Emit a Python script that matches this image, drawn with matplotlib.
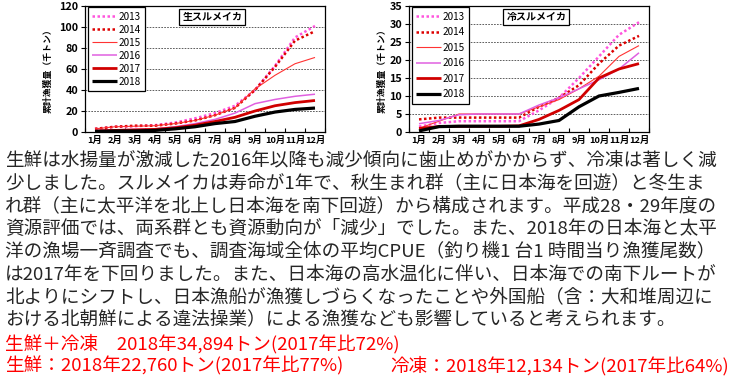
import matplotlib
matplotlib.use('Agg')
import matplotlib.pyplot as plt

plt.rcParams['font.family'] = ['Noto Sans CJK JP', 'DejaVu Sans']

months = ['1月', '2月', '3月', '4月', '5月', '6月', '7月', '8月', '9月', '10月', '11月', '12月']
years = ['2013', '2014', '2015', '2016', '2017', '2018']

# 生スルメイカ 累計漁獲量 (千トン)
fresh_2013 = [3, 5, 5.5, 6.5, 9, 13, 18, 25, 40, 63, 90, 101]
fresh_2014 = [3, 5, 6, 6, 8, 11, 16, 23, 40, 62, 87, 96]
fresh_2015 = [3, 5, 5.5, 6, 8, 11, 16, 23, 41, 54, 65, 71]
fresh_2016 = [1.5, 2, 2.5, 3, 5, 8, 12, 18, 27, 31, 34, 36]
fresh_2017 = [1, 1.5, 2, 2.5, 4, 6.5, 10, 14, 20, 25, 28, 30]
fresh_2018 = [0.5, 1, 1, 1.5, 3, 5, 8, 10, 15, 19, 21.5, 22.8]

# 冷スルメイカ 累計漁獲量 (千トン)
frozen_2013 = [1.5, 2.5, 3, 3, 3, 3, 6, 9.5, 15, 21, 27, 30.5]
frozen_2014 = [3.5, 4, 4, 4, 4, 4, 7, 9.5, 13, 19, 24, 26.7]
frozen_2015 = [1, 3, 5, 5, 5, 5, 7, 9, 12, 15.5, 21, 24]
frozen_2016 = [2.3, 3.2, 4.8, 5, 5, 5, 7.5, 9.5, 12, 14.5, 17.5, 22]
frozen_2017 = [1, 1.5, 1.6, 1.6, 1.6, 1.7, 3.5, 6, 9, 15, 17.5, 19]
frozen_2018 = [0.3, 1.5, 1.6, 1.6, 1.6, 1.6, 2.2, 3.2, 7, 10, 11, 12.1]

body_lines = [
    '生鮮は水揚量が激減した2016年以降も減少傾向に歯止めがかからず、冷凍は著しく減',
    '少しました。スルメイカは寿命が1年で、秋生まれ群（主に日本海を回遊）と冬生ま',
    'れ群（主に太平洋を北上し日本海を南下回遊）から構成されます。平成28・29年度の',
    '資源評価では、両系群とも資源動向が「減少」でした。また、2018年の日本海と太平',
    '洋の漁場一斉調査でも、調査海域全体の平均CPUE（釣り機1 台1 時間当り漁獲尾数）',
    'は2017年を下回りました。また、日本海の高水温化に伴い、日本海での南下ルートが',
    '北よりにシフトし、日本漁船が漁獲しづらくなったことや外国船（含：大和堆周辺に',
    'おける北朝鮮による違法操業）による漁獲なども影響していると考えられます。',
]
total_line = '生鮮＋冷凍　2018年34,894トン(2017年比72%)'
fresh_line = '生鮮：2018年22,760トン(2017年比77%)'
frozen_line = '冷凍：2018年12,134トン(2017年比64%)'

styles = {
    '2013': dict(color='#FF55DD', ls=(0, (1, 1)), lw=1.8),
    '2014': dict(color='#DD0000', ls=(0, (1, 1)), lw=1.8),
    '2015': dict(color='#FF3333', ls='-', lw=0.8),
    '2016': dict(color='#E060E0', ls='-', lw=1.1),
    '2017': dict(color='#D00000', ls='-', lw=2.0),
    '2018': dict(color='#000000', ls='-', lw=2.3),
}

W, H = 744, 385
fig = plt.figure(figsize=(W / 100, H / 100), dpi=100)


def px_axes(x0, y0, x1, y1):
    return fig.add_axes([x0 / W, 1 - y1 / H, (x1 - x0) / W, (y1 - y0) / H])


def draw_chart(ax, series, ymax, ystep, title, ylab_x, spacing):
    xs = [i + 0.5 for i in range(12)]
    for y, vals in zip(years, series):
        st = styles[y]
        ax.plot(xs, vals, color=st['color'], linestyle=st['ls'], lw=st['lw'],
                label=y, solid_capstyle='butt')
    ax.set_xlim(0, 12)
    ax.set_ylim(0, ymax)
    ax.set_xticks(range(13))
    ax.set_xticklabels([])
    ax.set_xticks(xs, minor=True)
    ax.set_xticklabels(months, minor=True, fontsize=6.7, fontweight='bold')
    ax.tick_params(axis='x', which='major', direction='in', length=3, width=0.8)
    ax.tick_params(axis='x', which='minor', length=0, pad=3)
    ax.set_yticks(range(0, ymax + 1, ystep))
    ax.tick_params(axis='y', direction='out', length=3, width=0.8, labelsize=7.8, pad=2)
    for t in ax.get_yticklabels():
        t.set_fontweight('bold')
    ax.yaxis.grid(True, linestyle=(0, (2, 1.5)), color='#444444', lw=0.6)
    ax.set_axisbelow(True)
    for s in ax.spines.values():
        s.set_linewidth(0.9)
    ax.set_ylabel('累計漁獲量（千トン）', fontsize=6.4, fontweight='bold')
    ax.yaxis.set_label_coords(ylab_x, 0.5)
    leg = ax.legend(loc='upper left', bbox_to_anchor=(0.012, 0.99), fontsize=7.2,
                    handlelength=2.5, labelspacing=spacing, handletextpad=0.1,
                    borderpad=0.45, fancybox=False, framealpha=1, edgecolor='black',
                    borderaxespad=0)
    leg.get_frame().set_linewidth(0.9)
    ax.text(0.531, 0.915, title, transform=ax.transAxes, ha='center', va='center',
            fontsize=7.2, fontweight='bold',
            bbox=dict(boxstyle='square,pad=0.3', fc='white', ec='black', lw=0.9))


ax1 = px_axes(85, 6, 325, 132)
draw_chart(ax1, [fresh_2013, fresh_2014, fresh_2015, fresh_2016, fresh_2017, fresh_2018],
           120, 20, '生スルメイカ', -0.135, 0.3)

ax2 = px_axes(409, 6, 649, 132)
draw_chart(ax2, [frozen_2013, frozen_2014, frozen_2015, frozen_2016, frozen_2017, frozen_2018],
           35, 5, '冷スルメイカ', -0.095, 0.55)

body_color = '#262626'
red = '#FF0000'
fs = 13.4
y0 = 160
step = 22.9
for i, line in enumerate(body_lines):
    fig.text(5 / W, 1 - (y0 + i * step) / H, line, fontsize=fs, color=body_color,
             ha='left', va='center')
fig.text(5 / W, 1 - (y0 + 8 * step) / H, total_line, fontsize=fs, color=red,
         ha='left', va='center')
fig.text(5 / W, 1 - (y0 + 9 * step) / H, fresh_line, fontsize=fs, color=red,
         ha='left', va='center')
fig.text(390 / W, 1 - (y0 + 9 * step) / H, frozen_line, fontsize=fs, color=red,
         ha='left', va='center')

fig.savefig('out.png', dpi=100)
